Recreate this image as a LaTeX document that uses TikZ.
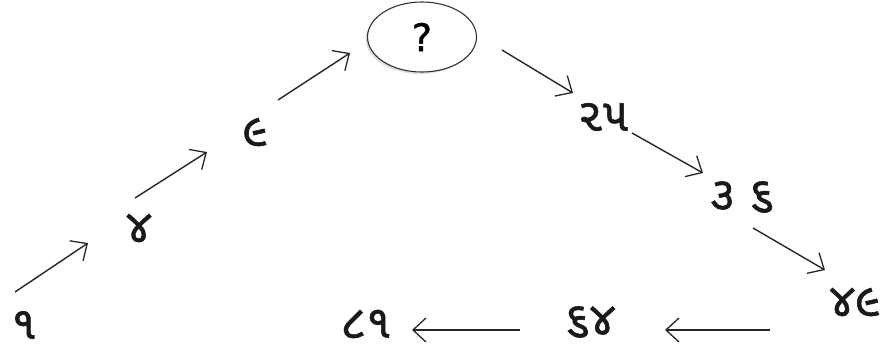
\documentclass[tikz,border=0pt]{standalone}
\usepackage{fontspec}
\newfontfamily\guj[Script=Gujarati,FakeBold=1.2]{Noto Sans Gujarati UI}
\newfontfamily\qfont[FakeBold=1]{DejaVu Sans}
\usetikzlibrary{shadows,shapes.geometric,arrows.meta}
\begin{document}
\begin{tikzpicture}[x=1pt,y=-1pt,
  num/.style={font=\guj\fontsize{46}{50}\selectfont, inner sep=1pt, text=black!90},
  arr/.style={-{Straight Barb[length=13pt,width=24pt,line width=1.3pt]}, line width=1.4pt, draw=black!85},
  qnode/.style={ellipse, draw=black!80, line width=1.1pt, minimum width=109pt, minimum height=70pt, inner sep=0pt, fill=white, drop shadow={shadow xshift=-2pt, shadow yshift=-2pt, opacity=0.25}, font=\fontsize{38}{42}\qfont\selectfont}]
\useasboundingbox (0,0) rectangle (888,354);
\node[num] (n1) at (24,325) {૧};
\node[num] (n4) at (139,228) {૪};
\node[num] (n9) at (255,132) {૯};
\node[qnode] (q) at (422,37) {?};
\node[num] (n25) at (603,117) {૨૫};
\node[num] (n36) at (742,197) {૩ ૬};
\node[num] (n49) at (855,302) {૪૯};
\node[num] (n64) at (590,322) {૬૪};
\node[num] (n81) at (366,324) {૮૧};
\draw[arr] ([shift={(-9,-33)}]n1.center) -- ([shift={(-51,15)}]n4.center);
\draw[arr] ([shift={(-4,-30)}]n4.center) -- ([shift={(-48,20)}]n9.center);
\draw[arr] ([shift={(23,-32)}]n9.center) -- ([shift={(-72,16)}]q.center);
\draw[arr] ([shift={(80,13)}]q.center) -- ([shift={(-30,-24)}]n25.center);
\draw[arr] ([shift={(29,16)}]n25.center) -- ([shift={(-39,-24)}]n36.center);
\draw[arr] ([shift={(11,31)}]n36.center) -- ([shift={(-30,-32)}]n49.center);
\draw[arr] ([shift={(-85,28)}]n49.center) -- ([shift={(75,8)}]n64.center);
\draw[arr] ([shift={(-70,8)}]n64.center) -- ([shift={(46,6)}]n81.center);
\end{tikzpicture}
\end{document}
